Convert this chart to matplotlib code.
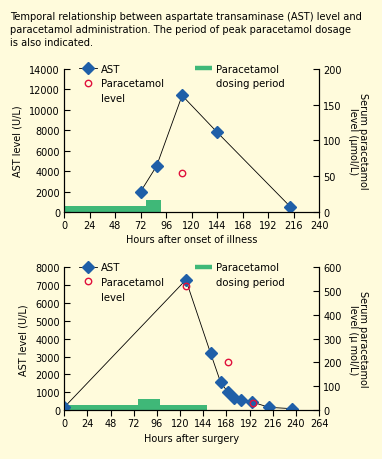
import numpy as np
import matplotlib.pyplot as plt
from matplotlib.lines import Line2D

plt.rcParams['font.family'] = ['DejaVu Sans']
plt.rcParams['font.size'] = 7

# --- datos panel superior (horas desde inicio de la enfermedad)
t1_ast = [72, 87, 111, 144, 213]
ast1 = [2000, 4500, 11400, 7800, 500]
t1_par = [111]
par1 = [54]
dose1_start = [0, 77]
dose1_end = [77, 91]
dose1_h = [550, 1140]

# --- datos panel inferior (horas tras la cirugía)
t2_ast = [0, 126, 151.5, 162, 169.5, 176, 183, 194, 212, 236]
ast2 = [150, 7300, 3200, 1550, 1000, 680, 580, 460, 150, 75]
t2_par = [126, 169.5, 195]
par2 = [523, 200, 30]
dose2_start = [0, 76]
dose2_end = [148, 99]
dose2_h = [280, 620]

bg = '#fffbdc'
verde = '#3fb878'
azul = '#1f5fa8'
rojo = '#e0103c'


def panel(ax, t_ast, ast, t_par, par, ds, de, dh, xmax, xlabel, ymax, ystep,
          rmax, rstep, rlabel):
    ax.set_facecolor(bg)
    ax.bar(ds, dh, width=np.array(de) - np.array(ds), align='edge',
           color=verde, linewidth=0, zorder=1)
    ax.plot(t_ast, ast, color='black', lw=0.6, zorder=2)
    ax.plot(t_ast, ast, linestyle='none', marker='D', ms=6.3, color=azul,
            zorder=3)
    ax.set_xlim(0, xmax)
    ax.set_ylim(0, ymax)
    ax.set_xticks(np.arange(0, xmax + 1, 24))
    ax.set_yticks(np.arange(0, ymax + 1, ystep))
    ax.set_xlabel(xlabel, labelpad=3)
    ax.set_ylabel('AST level (U/L)', labelpad=5)
    ax.spines['top'].set_visible(False)
    ax.tick_params(axis='x', direction='out', length=4, pad=2)
    ax.tick_params(axis='y', direction='in', length=4, pad=3)

    ax2 = ax.twinx()
    ax2.plot(t_par, par, linestyle='none', marker='o', ms=4.6,
             markerfacecolor='none', markeredgecolor=rojo, mew=1, zorder=4)
    ax2.set_ylim(0, rmax)
    ax2.set_yticks(np.arange(0, rmax + 1, rstep))
    ax2.spines['top'].set_visible(False)
    ax2.tick_params(axis='y', direction='in', length=4, pad=3)
    ax2.set_ylabel(rlabel, rotation=270, labelpad=19, linespacing=1.0)

    handles = [
        Line2D([], [], color='black', lw=0.6, marker='D', ms=6.3,
               markerfacecolor=azul, markeredgecolor=azul),
        Line2D([], [], linestyle='none', marker='o', ms=4.6,
               markerfacecolor='none', markeredgecolor=rojo, mew=1),
        Line2D([], [], linestyle='none'),
        Line2D([], [], color=verde, lw=3.2, solid_capstyle='butt'),
        Line2D([], [], linestyle='none'),
    ]
    labels = ['AST', 'Paracetamol', 'level', 'Paracetamol', 'dosing period']
    ax2.legend(handles, labels, ncol=2, loc='upper left',
               bbox_to_anchor=(0.06, 1.035), frameon=False, borderpad=0,
               borderaxespad=0, handlelength=1.7, handletextpad=0.45,
               columnspacing=3.0, labelspacing=0.45, fontsize=7.3)
    return ax2


fig = plt.figure(figsize=(3.82, 4.60), dpi=100)
fig.patch.set_facecolor(bg)

fig.text(0.026, 1 - 11.5 / 460,
         'Temporal relationship between aspartate transaminase (AST) level and\n'
         'paracetamol administration. The period of peak paracetamol dosage\n'
         'is also indicated.', ha='left', va='top', fontsize=7.15,
         linespacing=1.38)

ax_a = fig.add_axes([0.168, 0.537, 0.6675, 0.311])
panel(ax_a, t1_ast, ast1, t1_par, par1, dose1_start, dose1_end, dose1_h,
      240, 'Hours after onset of illness', 14000, 2000, 200, 50,
      'Serum paracetamol\nlevel (µmol/L)')

ax_b = fig.add_axes([0.168, 0.1065, 0.6675, 0.310])
panel(ax_b, t2_ast, ast2, t2_par, par2, dose2_start, dose2_end, dose2_h,
      264, 'Hours after surgery', 8000, 1000, 600, 100,
      'Serum paracetamol\nlevel (µ mol/L)')

fig.savefig('out.png', dpi=100, facecolor=bg)
